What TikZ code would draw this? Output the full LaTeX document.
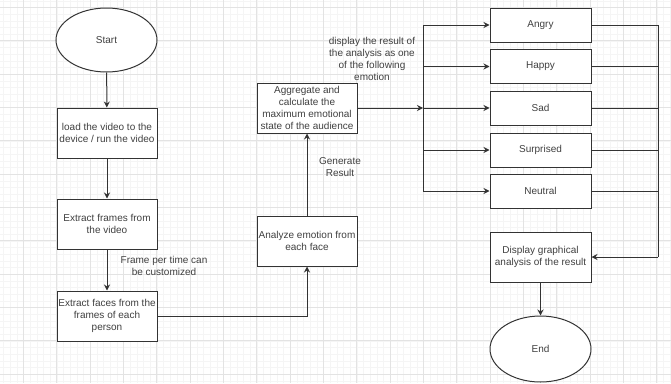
\documentclass[tikz,border=0pt]{standalone}
\usepackage{fontspec}
\setmainfont{Liberation Sans}
\usetikzlibrary{shapes.geometric,arrows.meta}
\definecolor{ink}{HTML}{333333}
\definecolor{txt}{HTML}{404040}
\definecolor{gminor}{HTML}{F5F5F5}
\definecolor{gmajor}{HTML}{E3E3E3}
\tikzset{
  box/.style={draw=ink, line width=1pt, rectangle, inner sep=0pt, minimum width=100pt, minimum height=50pt, align=center, text=txt, font=\fontsize{10}{12}\selectfont},
  ebox/.style={box, minimum width=101pt, minimum height=34pt},
  oval/.style={draw=ink, line width=1pt, ellipse, inner sep=0pt, minimum width=101pt, text=txt, font=\fontsize{10}{12}\selectfont},
  lbl/.style={align=center, text=txt, inner sep=0pt, font=\fontsize{10}{12}\selectfont},
  conn/.style={draw=ink, line width=1pt},
  arr/.style={conn, -{Stealth[length=6pt,width=6pt]}},
}
\begin{document}
\begin{tikzpicture}[x=1pt,y=-1pt]
\fill[white] (0,0) rectangle (671,383);
\useasboundingbox (0,0) rectangle (671,383);
% grid
\foreach \k in {0,...,100} {\draw[gminor, line width=0.5pt] ({3.5+\k*6.6667},0) -- ({3.5+\k*6.6667},383);}
\foreach \k in {0,...,57} {\draw[gminor, line width=0.5pt] (0,{0.83+\k*6.6667}) -- (671,{0.83+\k*6.6667});}
\foreach \k in {0,...,19} {\draw[gmajor, line width=0.7pt] ({23.5+\k*33.333},0) -- ({23.5+\k*33.333},383);}
\foreach \k in {0,...,11} {\draw[gmajor, line width=0.7pt] (0,{7.5+\k*33.333}) -- (671,{7.5+\k*33.333});}

% nodes
\node[oval, minimum height=64pt, fill=white] (start) at (106.5,40) {Start};
\node[box, fill=white] (load) at (107,133) {load the video to the\\device / run the video};
\node[box, fill=white] (frames) at (107,224) {Extract frames from\\the video};
\node[box, fill=white] (faces) at (107,316) {Extract faces from the\\frames of each\\person};
\node[box, fill=white] (analyze) at (307,241) {Analyze emotion from\\each face};
\node[box, fill=white] (aggr) at (307,108) {Aggregate and\\calculate the\\maximum emotional\\state of the audience};
\node[ebox, fill=white] (angry) at (540.5,25) {Angry};
\node[ebox, fill=white] (happy) at (540.5,66.5) {Happy};
\node[ebox, fill=white] (sad) at (540.5,108) {Sad};
\node[ebox, fill=white] (surp) at (540.5,150) {Surprised};
\node[ebox, fill=white] (neut) at (540.5,191) {Neutral};
\node[box, minimum width=101pt, fill=white] (disp) at (540.5,257) {Display graphical\\analysis of the result};
\node[oval, minimum height=66pt, fill=white] (end) at (540.5,349) {End};

% labels
\node[lbl] (lfr) at (164,266) {Frame per time can\\be customized};
\node[lbl] (lgen) at (340,167) {Generate\\Result};
\node[lbl] (ldisp) at (372,59) {display the result of\\the analysis as one\\of the following\\emotion};

% coordinates
\coordinate (split) at (423,108);
\coordinate (stop) at (423,25);
\coordinate (sbot) at (423,191);
\coordinate (mtop) at (658,25);
\coordinate (mbot) at (658,257);

% connectors
\draw[arr] (start) -- (load);
\draw[arr] (load) -- (frames);
\draw[arr] (frames) -- (faces);
\draw[arr] (faces.east) -| (analyze.south);
\draw[arr] (analyze) -- (aggr);
\draw[arr] (aggr.east) -- (split);
\draw[conn] (stop) -- (sbot);
\draw[arr] (stop) -- (angry.west);
\draw[arr] (split |- happy.west) -- (happy.west);
\draw[arr] (split) -- (sad.west);
\draw[arr] (split |- surp.west) -- (surp.west);
\draw[arr] (sbot) -- (neut.west);
\draw[conn] (angry.east) -- (mtop) -- (mbot);
\draw[conn] (happy.east) -- (mtop |- happy.east);
\draw[conn] (sad.east) -- (mtop |- sad.east);
\draw[conn] (surp.east) -- (mtop |- surp.east);
\draw[conn] (neut.east) -- (mtop |- neut.east);
\draw[arr] (mbot) -- (disp.east);
\draw[arr] (disp) -- (end);
\end{tikzpicture}
\end{document}
